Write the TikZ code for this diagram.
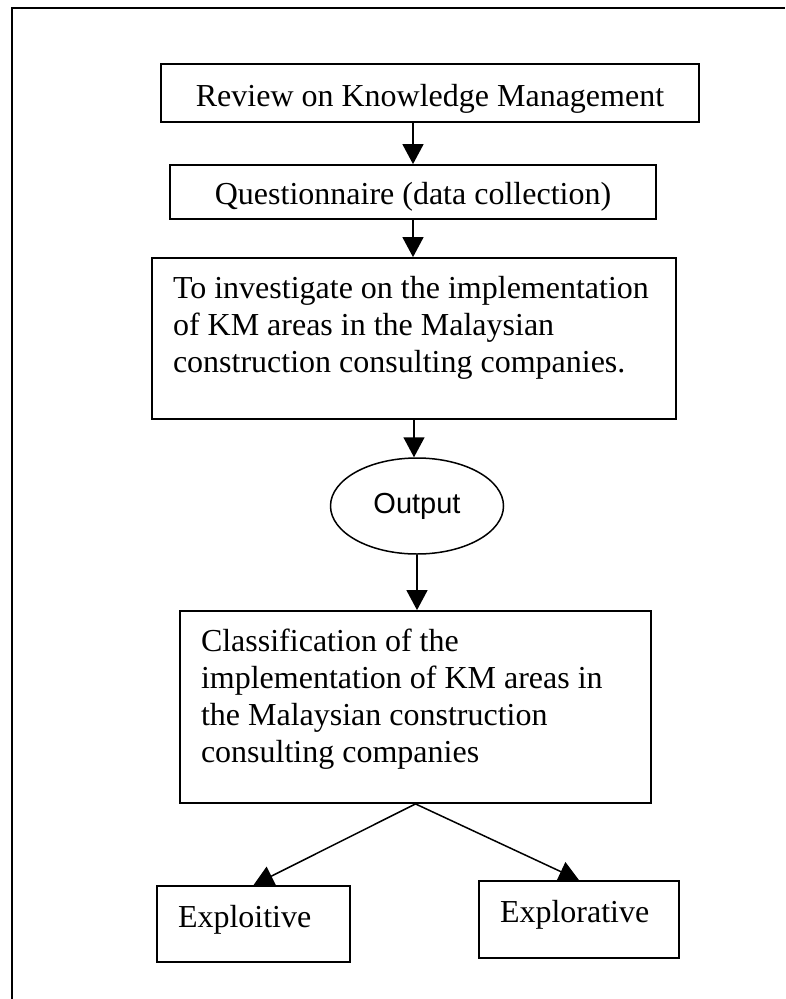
\documentclass[tikz,border=0pt]{standalone}
\usepackage{fontspec}
\setmainfont{Liberation Serif}
\newfontfamily\outfont{Liberation Sans}
\usetikzlibrary{arrows.meta,shapes.geometric}

\begin{document}
\begin{tikzpicture}[x=1pt, y=-1pt,
  every node/.style={font=\fontsize{32}{37}\selectfont},
  box/.style={draw, line width=1.8pt, inner sep=0pt},
  flow/.style={line width=1.5pt, -{Triangle[length=20pt,width=21pt]}}]
  \useasboundingbox (0,0) rectangle (785,999);

  % Page frame (only left and top edges show)
  \draw[line width=2pt] (12,999) -- (12,8) -- (785,8);

  % Boxes
  \node[box, minimum width=538pt, minimum height=58pt, text height=33pt, text depth=7pt]
    (review) at (430,93) {Review on Knowledge Management};
  \node[box, minimum width=486pt, minimum height=54pt, text height=31pt, text depth=7pt]
    (quest) at (413,192) {Questionnaire (data collection)};
  \node[box, minimum width=524pt, minimum height=161pt, text width=482pt, align=flush left,
    text height=22pt, text depth=102pt] (invest) at (414,338.5)
    {To investigate on the implementation\\ of KM areas in the Malaysian\\ construction consulting companies.};
  \node[draw, ellipse, line width=1.5pt, minimum width=173pt, minimum height=96pt, inner sep=0pt,
    font=\outfont\fontsize{29}{34}\selectfont] (output) at (417,506) {Output};
  \node[box, minimum width=471pt, minimum height=192pt, text width=429pt, align=flush left,
    text height=22pt, text depth=134pt] (classif) at (415.5,707)
    {Classification of the\\ implementation of KM areas in\\ the Malaysian construction\\ consulting companies};
  \node[box, minimum width=193pt, minimum height=76pt, text width=151pt, align=flush left,
    text height=22pt, text depth=16pt] (exploit) at (253.5,924) {Exploitive};
  \node[box, minimum width=200pt, minimum height=77pt, text width=158pt, align=flush left,
    text height=22pt, text depth=17pt] (explore) at (579,919.5) {Explorative};

  % Arrows
  \draw[flow] (review.south -| quest.north) -- (quest.north);
  \draw[flow] (quest.south) -- (quest.south |- invest.north);
  \draw[flow] (invest.south) -- (invest.south |- output.north);
  \draw[flow] (output.south) -- (output.south |- classif.north);
  \draw[flow] (classif.south) -- (exploit.north);
  \draw[flow] (classif.south) -- (explore.north);
\end{tikzpicture}
\end{document}
